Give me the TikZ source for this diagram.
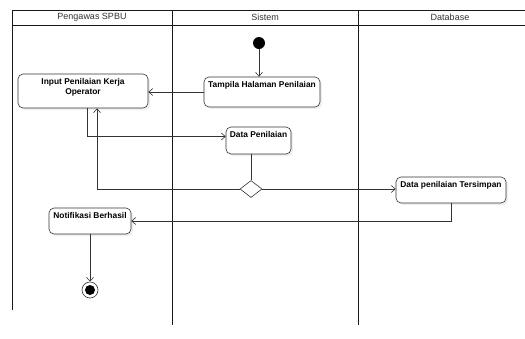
\documentclass[tikz,border=0pt]{standalone}
\usepackage{fontspec}
\setmainfont{Liberation Sans}
\usetikzlibrary{arrows.meta,shapes.geometric,shadows}
\begin{document}
\begin{tikzpicture}[x=1pt,y=-1pt,
  lane/.style={draw=black!90, line width=0.9pt},
  head/.style={font=\fontsize{9}{10}\selectfont, text=black!80},
  act/.style={draw=black!80, line width=0.6pt, rounded corners=5pt, fill=white,
    drop shadow={opacity=0.12, shadow xshift=2pt, shadow yshift=-2pt}},
  txt/.style={font=\bfseries\fontsize{8.4}{10}\selectfont, align=center, inner xsep=3pt, inner ysep=4.5pt, anchor=north},
  flow/.style={draw=black!80, line width=0.6pt, -{Straight Barb[length=4pt,width=7pt]}},
  seg/.style={draw=black!80, line width=0.6pt},
  dec/.style={draw=black!80, line width=0.6pt, diamond, fill=white, inner sep=0pt, minimum width=22pt, minimum height=17pt}
]
\useasboundingbox (0,0) rectangle (525,338);
\fill[white] (0,0) rectangle (525,338);
% swimlanes
\draw[lane] (12,10) -- (525,10);
\draw[lane] (12,25) -- (525,25);
\draw[lane] (12,10) -- (12,310);
\draw[lane] (172,10) -- (172,325);
\draw[lane] (358,10) -- (358,325);
\node[head] (h1) at (92,17.5) {Pengawas SPBU};
\node[head] (h2) at (265,17.5) {Sistem};
\node[head] (h3) at (450,17.5) {Database};
% start / end
\node[circle, fill=black, minimum size=12pt, inner sep=0pt] (start) at (259,43) {};
\node[circle, draw=black!80, line width=0.6pt, fill=white, minimum size=16pt, inner sep=0pt] (end) at (90,290) {};
\node[circle, fill=black, minimum size=10pt, inner sep=0pt] (endin) at (end) {};
% activities
\node[act, minimum width=116pt, minimum height=30pt] (tampil) at (262,92) {};
\node[txt] (tampilt) at (tampil.north) {Tampila Halaman Penilaian};
\node[act, minimum width=130pt, minimum height=34pt] (input) at (83,91) {};
\node[txt] (inputt) at (input.north) {Input Penilaian Kerja\\Operator};
\node[act, minimum width=65pt, minimum height=27pt] (datap) at (258.5,140.5) {};
\node[txt] (datapt) at (datap.north) {Data Penilaian};
\node[act, minimum width=110pt, minimum height=26pt] (simpan) at (451,190) {};
\node[txt] (simpant) at (simpan.north) {Data penilaian Tersimpan};
\node[act, minimum width=82pt, minimum height=26pt] (notif) at (90,221) {};
\node[txt] (notift) at (notif.north) {Notifikasi Berhasil};
\node[dec] (dec) at (251,189) {};
% flows
\draw[flow] (start) -- (start |- tampil.north);
\draw[flow] (tampil.west) -- (input.east |- tampil.west);
\draw[flow] ([xshift=4pt]input.south) |- ([yshift=4pt]datap.west);
\draw[seg] (dec.north |- datap.south) -- (dec.north);
\draw[flow] (dec.west) -| ([xshift=14pt]input.south);
\draw[flow] (dec.east) -- (dec.east -| simpan.west);
\draw[flow] (simpan.south) |- (notif.east);
\draw[flow] (notif.south) -- (end.north);
\end{tikzpicture}
\end{document}
